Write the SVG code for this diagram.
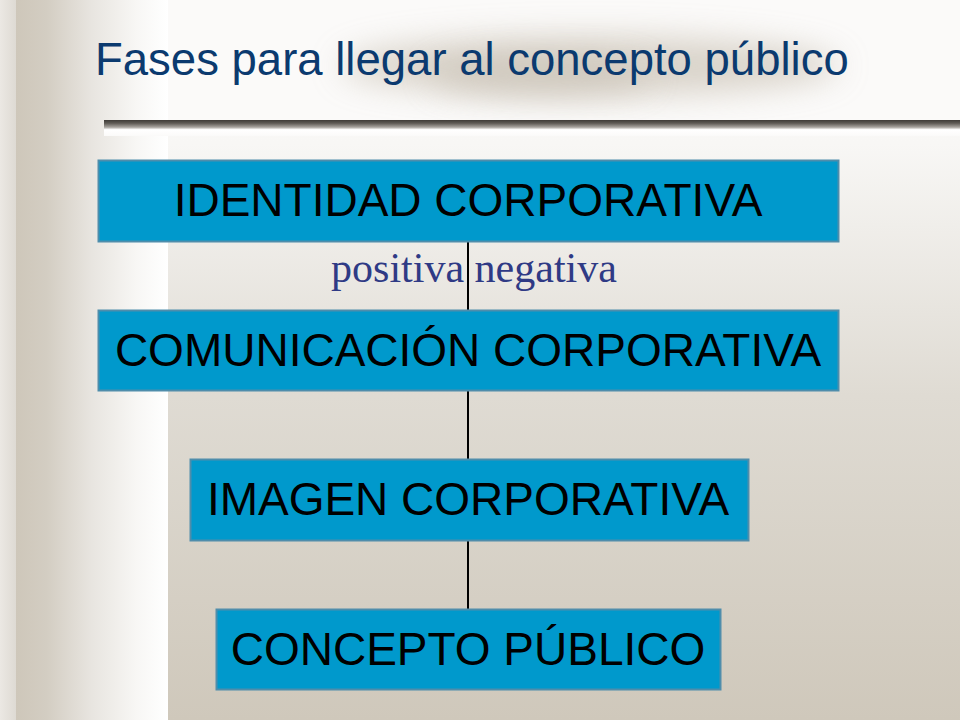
<svg xmlns="http://www.w3.org/2000/svg" width="960" height="720" viewBox="0 0 960 720">
  <defs>
    <linearGradient id="mainbg" x1="0" y1="0" x2="0" y2="720" gradientUnits="userSpaceOnUse">
      <stop offset="0" stop-color="#fcfbfa"/>
      <stop offset="0.2" stop-color="#f8f7f5"/>
      <stop offset="0.55" stop-color="#dfdbd3"/>
      <stop offset="1" stop-color="#cfc8bb"/>
    </linearGradient>
    <linearGradient id="leftbg" x1="16" y1="0" x2="168" y2="0" gradientUnits="userSpaceOnUse">
      <stop offset="0" stop-color="#cec7ba"/>
      <stop offset="0.2" stop-color="#d3cdc2"/>
      <stop offset="0.5" stop-color="#e8e5e0"/>
      <stop offset="0.8" stop-color="#f8f7f5"/>
      <stop offset="1" stop-color="#ffffff"/>
    </linearGradient>
    <linearGradient id="edgebg" x1="0" y1="0" x2="16" y2="0" gradientUnits="userSpaceOnUse">
      <stop offset="0" stop-color="#ebe8e3"/>
      <stop offset="1" stop-color="#dedad3"/>
    </linearGradient>
    <linearGradient id="bar" x1="0" y1="120" x2="0" y2="136" gradientUnits="userSpaceOnUse">
      <stop offset="0" stop-color="#3e3b37"/>
      <stop offset="0.2" stop-color="#5e5a55"/>
      <stop offset="0.45" stop-color="#a7a39e"/>
      <stop offset="0.6" stop-color="#ffffff"/>
      <stop offset="1" stop-color="#fbfaf9"/>
    </linearGradient>
    <filter id="blur" x="-50%" y="-100%" width="200%" height="300%">
      <feGaussianBlur stdDeviation="16"/>
    </filter>
    <style>
      .box { fill: #0099cc; stroke: #4f8dab; stroke-width: 2; }
      .lbl { font-family: "Liberation Sans", Arial, sans-serif; font-size: 46px; fill: #000000; text-anchor: middle; }
      .conn { stroke: #000000; stroke-width: 2; fill: none; }
    </style>
  </defs>

  <!-- background -->
  <rect x="0" y="0" width="960" height="720" fill="url(#mainbg)"/>
  <rect x="0" y="0" width="16" height="720" fill="url(#edgebg)"/>
  <rect x="16" y="0" width="152" height="720" fill="url(#leftbg)"/>
  <rect x="168" y="0" width="792" height="120" fill="#fbfaf9"/>

  <!-- title shadow -->
  <ellipse cx="590" cy="66" rx="250" ry="30" fill="#cbc3b6" opacity="0.7" filter="url(#blur)"/>
  <ellipse cx="540" cy="76" rx="110" ry="18" fill="#c5bdb0" opacity="0.55" filter="url(#blur)"/>

  <!-- title bar -->
  <rect x="104" y="120" width="856" height="16" fill="url(#bar)"/>

  <!-- title -->
  <text id="title" x="95" y="75" font-family="'Liberation Sans', Arial, sans-serif" font-size="45.5" fill="#0b3a6f">Fases para llegar al concepto público</text>

  <!-- connectors -->
  <g id="connectors">
    <line class="conn" x1="468" y1="242" x2="468" y2="609"/>
  </g>

  <!-- edge label -->
  <text id="edge-label" x="474" y="282" font-family="'Liberation Serif', 'Times New Roman', serif" font-size="42" fill="#2f3a85" text-anchor="middle">positiva negativa</text>

  <!-- nodes -->
  <g id="identidad">
    <rect class="box" x="98.5" y="160.5" width="740" height="81"/>
    <text class="lbl" x="468" y="216">IDENTIDAD CORPORATIVA</text>
  </g>
  <g id="comunicacion">
    <rect class="box" x="98.5" y="310.5" width="740" height="80"/>
    <text class="lbl" x="468" y="366">COMUNICACIÓN CORPORATIVA</text>
  </g>
  <g id="imagen">
    <rect class="box" x="190.5" y="459.5" width="558" height="81"/>
    <text class="lbl" x="468" y="515">IMAGEN CORPORATIVA</text>
  </g>
  <g id="concepto">
    <rect class="box" x="216.5" y="609.5" width="504" height="80"/>
    <text class="lbl" x="468" y="665">CONCEPTO PÚBLICO</text>
  </g>
</svg>
